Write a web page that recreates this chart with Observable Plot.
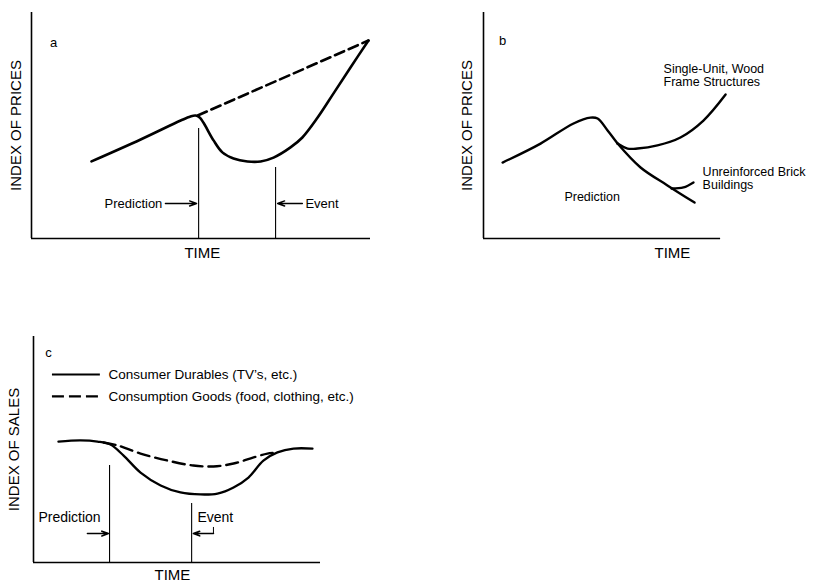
<!DOCTYPE html>
<html><head><meta charset="utf-8">
<script src="https://cdn.jsdelivr.net/npm/d3@7"></script>
<script src="https://cdn.jsdelivr.net/npm/@observablehq/plot@0.6"></script>
<style>
body{margin:0;background:#fff;}
#root{position:relative;width:824px;height:584px;background:#fff;color:#000;}
.panel{position:absolute;}
.panel svg{overflow:visible;}
</style>
</head><body><div id="root"></div>
<script>
// ---------- Panel a: index of prices (conceptual) ----------
const aSolidTime  = [17.7, 32.2, 44.0, 46.9, 48.4, 49.6, 50.7, 53.7, 56.3, 59.6, 63.7, 67.6, 71.4, 76.4, 79.9, 84.4, 89.1, 94.1, 99.4];
const aSolidPrice = [34.1, 43.8, 52.2, 54.0, 54.4, 53.5, 51.3, 43.4, 38.1, 35.4, 34.1, 34.1, 35.8, 40.3, 44.7, 53.5, 64.2, 75.7, 87.6];
const aDashTime   = [49.0, 99.4];
const aDashPrice  = [54.4, 87.6];
const aMarkerTime = [49.3, 72.0];          // Prediction, Event
const aMarkerTop  = [48.7, 31.4];
const aArrowFrom  = [39.5, 79.9];
const aArrowTo    = [48.7, 72.6];
const aArrowLevel = 15.5;
const aLabels     = ["Prediction", "Event"];
const aLabelTime  = [38.6, 80.8];

// ---------- Panel b ----------
const bMainTime    = [6.9, 20.6, 32.5, 38.6, 41.2, 44.8, 48.4];
const bMainPrice   = [33.6, 42.0, 50.9, 53.5, 53.1, 47.8, 42.0];
const bWoodTime    = [48.4, 52.0, 55.6, 62.8, 71.1, 79.4, 87.4];
const bWoodPrice   = [42.0, 39.8, 39.8, 41.2, 44.7, 52.2, 63.7];
const bBrickTime   = [48.4, 56.7, 66.4, 76.2];
const bBrickPrice  = [42.0, 31.4, 23.5, 15.9];
const bHookTime    = [67.9, 72.2, 75.8];
const bHookPrice   = [22.1, 22.6, 24.8];
const bTexts       = ["Single-Unit, Wood\nFrame Structures", "Unreinforced Brick\nBuildings", "Prediction"];
const bTextTime    = [65.0, 79.1, 29.2];
const bTextPrice   = [72.4, 26.8, 18.6];

// ---------- Panel c: index of sales ----------
const cDurTime   = [8.7, 16.4, 22.3, 26.8, 31.4, 37.3, 44.3, 51.2, 58.2, 64.1, 69.7, 74.9, 80.1, 85.0, 90.6, 97.2];
const cDurSales  = [53.5, 54.0, 53.5, 52.2, 47.3, 39.8, 34.1, 31.0, 30.1, 30.5, 33.2, 37.6, 45.1, 48.7, 50.4, 50.4];
const cConsTime  = [24.4, 29.3, 37.3, 46.7, 55.7, 62.7, 69.7, 76.7, 81.5, 85.0];
const cConsSales = [53.1, 51.8, 48.2, 45.1, 42.9, 42.5, 43.8, 46.5, 48.2, 48.7];
const cMarkerTime = [26.5, 55.1];
const cMarkerTop  = [42.9, 26.1];
const cArrowFrom  = [18.8, 62.7];
const cArrowTo    = [26.1, 55.7];
const cArrowLevel = 12.8;
const cLabels     = ["Prediction", "Event"];
const cLabelTime  = [1.7, 57.1];
const cLabelLevel = 19.9;
const cLegend     = ["Consumer Durables (TV\u2019s, etc.)", "Consumption Goods (food, clothing, etc.)"];
const cLegendLevel = [83.2, 73.5];

const FONT = "'Liberation Sans', Arial, Helvetica, sans-serif";
const zip2 = (xs, ys) => xs.map((x, i) => ({x, y: ys[i]}));
const root = document.getElementById("root");

function place(svg, left, top, w) {
  const d = document.createElement("div");
  d.className = "panel";
  d.style.left = left + "px"; d.style.top = top + "px"; d.style.width = w + "px";
  d.appendChild(svg); root.appendChild(d);
}
const base = (w, h, m) => ({
  width: w, height: h,
  marginLeft: m[0], marginRight: m[1], marginTop: m[2], marginBottom: m[3],
  x: {domain: [0, 100], axis: null},
  y: {domain: [0, 100], axis: null},
  style: {fontFamily: FONT, color: "#000", background: "transparent", overflow: "visible"}
});
const frameMarks = (xEnd, yLabel, dxLabel, timeX, timeDy) => [
  Plot.ruleX([0], {y1: 0, y2: 100, stroke: "#000", strokeWidth: 1.6}),
  Plot.ruleY([0], {x1: 0, x2: xEnd, stroke: "#000", strokeWidth: 1.6}),
  Plot.text([yLabel], {frameAnchor: "left", dx: dxLabel, rotate: -90, textAnchor: "middle", fontSize: 15, fill: "#000"}),
  Plot.text(["TIME"], {x: [timeX], frameAnchor: "bottom", dy: timeDy, fontSize: 15, fill: "#000"})
];

// Panel a
const aMarkers = aMarkerTime.map((t, i) => ({t, top: aMarkerTop[i]}));
const aArrows = aLabels.map((l, i) => ({x1: aArrowFrom[i], x2: aArrowTo[i], y: aArrowLevel, label: l, lx: aLabelTime[i]}));
place(Plot.plot({
  ...base(380, 260, [31, 10, 12, 22]),
  marks: [
    ...frameMarks(100, "INDEX OF PRICES", -15, 50.4, 19),
    Plot.text(["a"], {x: [6.5], y: [86.7], fontSize: 13, fill: "#000"}),
    Plot.line(zip2(aSolidTime, aSolidPrice), {x: "x", y: "y", curve: "catmull-rom", stroke: "#000", strokeWidth: 2.6}),
    Plot.line(zip2(aDashTime, aDashPrice), {x: "x", y: "y", stroke: "#000", strokeWidth: 2.6, strokeDasharray: "10,5"}),
    Plot.ruleX(aMarkers, {x: "t", y1: 0, y2: "top", stroke: "#000", strokeWidth: 1.1}),
    Plot.arrow(aArrows, {x1: "x1", x2: "x2", y1: "y", y2: "y", stroke: "#000", strokeWidth: 1.4, headLength: 8, headAngle: 40}),
    Plot.text([aArrows[0]], {x: "lx", y: "y", text: "label", textAnchor: "end", fontSize: 13, fill: "#000"}),
    Plot.text([aArrows[1]], {x: "lx", y: "y", text: "label", textAnchor: "start", fontSize: 13, fill: "#000"})
  ]
}), 0, 0, 380);

// Panel b
place(Plot.plot({
  ...base(384, 260, [43, 64, 12, 22]),
  marks: [
    ...frameMarks(85.6, "INDEX OF PRICES", -16, 68.2, 19),
    Plot.text(["b"], {x: [6.9], y: [87.6], fontSize: 13, fill: "#000"}),
    Plot.line(zip2(bMainTime, bMainPrice), {x: "x", y: "y", curve: "catmull-rom", stroke: "#000", strokeWidth: 2.4}),
    Plot.line(zip2(bWoodTime, bWoodPrice), {x: "x", y: "y", curve: "catmull-rom", stroke: "#000", strokeWidth: 2.4}),
    Plot.line(zip2(bBrickTime, bBrickPrice), {x: "x", y: "y", curve: "catmull-rom", stroke: "#000", strokeWidth: 2.4}),
    Plot.line(zip2(bHookTime, bHookPrice), {x: "x", y: "y", curve: "catmull-rom", stroke: "#000", strokeWidth: 2.4}),
    Plot.text(bTexts.map((s, i) => ({s, x: bTextTime[i], y: bTextPrice[i]})), {x: "x", y: "y", text: "s", textAnchor: "start", lineAnchor: "middle", lineHeight: 1.05, fontSize: 12.5, fill: "#000"})
  ]
}), 440, 0, 384);

// Panel c
const cMarkers = cMarkerTime.map((t, i) => ({t, top: cMarkerTop[i]}));
const cArrows = cLabels.map((l, i) => ({x1: cArrowFrom[i], x2: cArrowTo[i], y: cArrowLevel, label: l, lx: cLabelTime[i]}));
const cLegendData = cLegend.map((s, i) => ({s, y: cLegendLevel[i], dash: i === 1}));
place(Plot.plot({
  ...base(400, 254, [33, 80, 6, 22]),
  marks: [
    ...frameMarks(100, "INDEX OF SALES", -19, 48.4, 17),
    Plot.text(["c"], {x: [5.2], y: [92.9], fontSize: 13, fill: "#000"}),
    Plot.ruleY([cLegendData[0]], {y: "y", x1: 6.6, x2: 23.3, stroke: "#000", strokeWidth: 2}),
    Plot.ruleY([cLegendData[1]], {y: "y", x1: 6.6, x2: 23.3, stroke: "#000", strokeWidth: 2.4, strokeDasharray: "12,5"}),
    Plot.text(cLegendData, {x: 26.1, y: "y", text: "s", textAnchor: "start", fontSize: 13.5, fill: "#000"}),
    Plot.line(zip2(cDurTime, cDurSales), {x: "x", y: "y", curve: "catmull-rom", stroke: "#000", strokeWidth: 2.3}),
    Plot.line(zip2(cConsTime, cConsSales), {x: "x", y: "y", curve: "catmull-rom", stroke: "#000", strokeWidth: 2.4, strokeDasharray: "12,6"}),
    Plot.ruleX(cMarkers, {x: "t", y1: 0, y2: "top", stroke: "#000", strokeWidth: 1.1}),
    Plot.arrow(cArrows, {x1: "x1", x2: "x2", y1: "y", y2: "y", stroke: "#000", strokeWidth: 1.6, headLength: 7, headAngle: 40}),
    Plot.ruleX([cArrows[1]], {x: "x1", y1: "y", y2: 15.5, stroke: "#000", strokeWidth: 1}),
    Plot.text(cArrows, {x: "lx", y: cLabelLevel, text: "label", textAnchor: "start", fontSize: 14, fill: "#000"})
  ]
}), 0, 330, 400);
</script>
</body></html>
